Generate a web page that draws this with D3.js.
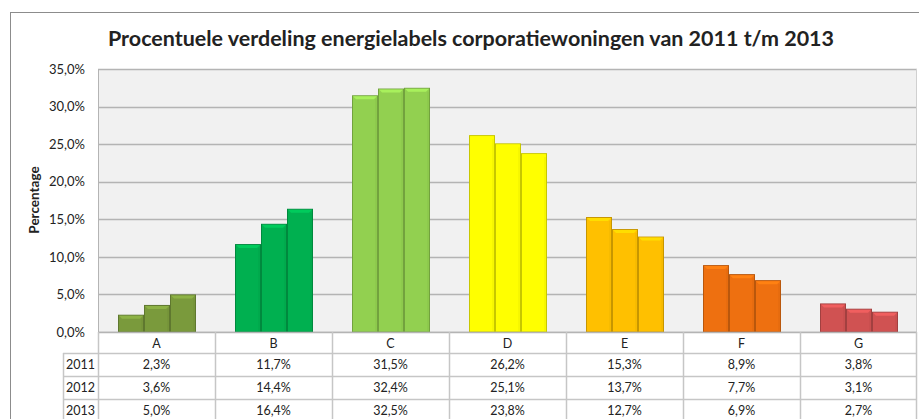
<!DOCTYPE html>
<html>
<head>
<meta charset="utf-8">
<script src="https://cdn.jsdelivr.net/npm/d3@7"></script>
<style>
  body { margin: 0; background: #fff; }
  svg text { font-family: Lato, "Open Sans", sans-serif; fill: #222; }
</style>
</head>
<body>
<div id="chart"></div>
<script>
(function() {
  var W = 919, H = 419;

  // data
  var labels = ["A", "B", "C", "D", "E", "F", "G"];
  var years = ["2011", "2012", "2013"];
  var v2011 = [2.3, 11.7, 31.5, 26.2, 15.3, 8.9, 3.8];
  var v2012 = [3.6, 14.4, 32.4, 25.1, 13.7, 7.7, 3.1];
  var v2013 = [5.0, 16.4, 32.5, 23.8, 12.7, 6.9, 2.7];
  var yTicks = [0, 5, 10, 15, 20, 25, 30, 35];
  var labelColors = ["#7a9a3c", "#00b050", "#92d050", "#ffff00", "#ffc000", "#ee7010", "#d05252"];

  var series = [v2011, v2012, v2013];

  var margin = { top: 69, left: 98, right: 2, bottom: 87 },
    width = W - margin.left - margin.right,
    height = H - margin.top - margin.bottom;

  var svg = d3.select("#chart")
    .append("svg")
    .attr("width", W)
    .attr("height", H);

  // outer frame
  svg.append("rect")
    .attr("x", 10.5).attr("y", 12.5)
    .attr("width", W + 10).attr("height", H + 10)
    .attr("fill", "none").attr("stroke", "#8c8c8c");

  svg.append("text")
    .attr("x", 471).attr("y", 46)
    .attr("text-anchor", "middle")
    .attr("font-size", 21).attr("font-weight", "bold")
    .attr("textLength", 726).attr("lengthAdjust", "spacingAndGlyphs")
    .text("Procentuele verdeling energielabels corporatiewoningen van 2011 t/m 2013");

  var g = svg.append("g")
    .attr("transform", "translate(" + margin.left + "," + margin.top + ")");

  var x = d3.scaleBand().domain(labels).range([0, width]);
  var x1 = d3.scaleBand().domain(years).range([20, x.bandwidth() - 19]);
  var y = d3.scaleLinear().domain([0, 35]).range([height, 0]);

  g.append("rect")
    .attr("width", width).attr("height", height)
    .attr("fill", "#f1f1f1");

  // gridlines
  g.selectAll(".grid")
    .data(yTicks)
    .enter().append("line")
    .attr("x1", 0).attr("x2", width)
    .attr("y1", function(d) { return Math.round(y(d)) + 0.5; })
    .attr("y2", function(d) { return Math.round(y(d)) + 0.5; })
    .attr("stroke", "#b4b4b4").attr("stroke-width", 1.5);

  g.append("line")
    .attr("x1", 0.5).attr("x2", 0.5).attr("y1", 0).attr("y2", height)
    .attr("stroke", "#b4b4b4");
  g.append("line")
    .attr("x1", width - 0.5).attr("x2", width - 0.5).attr("y1", 0).attr("y2", height)
    .attr("stroke", "#d0d0d0");

  // y axis
  var yAxis = d3.axisLeft(y)
    .tickValues(yTicks)
    .tickSize(0)
    .tickPadding(13)
    .tickFormat(function(d) { return d3.format(".1f")(d).replace(".", ",") + "%"; });
  g.append("g")
    .attr("class", "axis y-axis")
    .call(yAxis)
    .call(function(a) {
      a.select(".domain").remove();
      a.selectAll("text").attr("font-size", 13).attr("fill", "#333");
    });

  svg.append("text")
    .attr("transform", "translate(39,200) rotate(-90)")
    .attr("text-anchor", "middle")
    .attr("font-size", 13.5).attr("font-weight", "bold")
    .text("Percentage");

  // bars
  var groups = g.selectAll(".cat")
    .data(labels)
    .enter().append("g")
    .attr("transform", function(d) { return "translate(" + x(d) + ",0)"; });

  groups.each(function(cat, i) {
    var c = d3.color(labelColors[i]);
    var sel = d3.select(this);
    years.forEach(function(yr, j) {
      var val = series[j][i];
      var bx = x1(yr), bw = x1.bandwidth(), by = y(val), bh = height - y(val);
      sel.append("rect")
        .attr("x", bx + 0.5).attr("y", by + 0.5)
        .attr("width", bw - 1).attr("height", bh - 0.5)
        .attr("fill", c.formatHex())
        .attr("stroke", c.darker(0.7).formatHex());
      // bevel top
      sel.append("path")
        .attr("d", "M" + (bx + 1) + "," + (by + 1) + "L" + (bx + bw - 1) + "," + (by + 1) +
          "L" + (bx + bw - 4) + "," + (by + 4) + "L" + (bx + 4) + "," + (by + 4) + "Z")
        .attr("fill", c.brighter(0.4).formatHex());
      sel.append("line")
        .attr("x1", bx + bw - 2).attr("x2", bx + bw - 2).attr("y1", by + 4).attr("y2", height)
        .attr("stroke", c.darker(0.3).formatHex()).attr("stroke-opacity", 0.6);
    });
  });

  // data table
  var rowH = 23, headH = 21, yearLeft = -35;
  var t = g.append("g").attr("transform", "translate(0," + height + ")");

  t.append("rect")
    .attr("x", 0).attr("y", 0).attr("width", width).attr("height", headH + rowH * 3)
    .attr("fill", "#fff");

  // horizontal lines
  t.append("line")
    .attr("x1", 0).attr("x2", width).attr("y1", 0.5).attr("y2", 0.5)
    .attr("stroke", "#b4b4b4").attr("stroke-width", 1.5);
  [0, 1, 2, 3].forEach(function(k) {
    var yy = headH + k * rowH + 0.5;
    t.append("line")
      .attr("x1", yearLeft).attr("x2", width).attr("y1", yy).attr("y2", yy)
      .attr("stroke", "#c6c6c6").attr("stroke-width", 1.5);
  });

  // vertical lines
  labels.forEach(function(d) {
    t.append("line")
      .attr("x1", x(d) + 0.5).attr("x2", x(d) + 0.5).attr("y1", 0).attr("y2", headH + rowH * 3 + 5)
      .attr("stroke", "#c6c6c6").attr("stroke-width", 1.5);
  });
  t.append("line")
    .attr("x1", width - 0.5).attr("x2", width - 0.5).attr("y1", 0).attr("y2", headH + rowH * 3 + 5)
    .attr("stroke", "#c6c6c6").attr("stroke-width", 1.5);
  t.append("line")
    .attr("x1", yearLeft + 0.5).attr("x2", yearLeft + 0.5).attr("y1", headH).attr("y2", headH + rowH * 3 + 5)
    .attr("stroke", "#c6c6c6").attr("stroke-width", 1.5);

  t.selectAll(".cat-label")
    .data(labels)
    .enter().append("text")
    .attr("x", function(d) { return x(d) + x.bandwidth() / 2; })
    .attr("y", headH / 2 + 5)
    .attr("text-anchor", "middle")
    .attr("font-size", 12.5)
    .text(function(d) { return d; });

  years.forEach(function(yr, j) {
    var cy = headH + j * rowH + rowH / 2 + 4.5;
    t.append("text")
      .attr("x", yearLeft / 2).attr("y", cy)
      .attr("text-anchor", "middle").attr("font-size", 12.5)
      .text(yr);
    t.selectAll(".val-" + yr)
      .data(series[j])
      .enter().append("text")
      .attr("x", function(d, i) { return x(labels[i]) + x.bandwidth() / 2; })
      .attr("y", cy)
      .attr("text-anchor", "middle").attr("font-size", 12.5)
      .text(function(d) { return d3.format(".1f")(d).replace(".", ",") + "%"; });
  });
})();
</script>
</body>
</html>
